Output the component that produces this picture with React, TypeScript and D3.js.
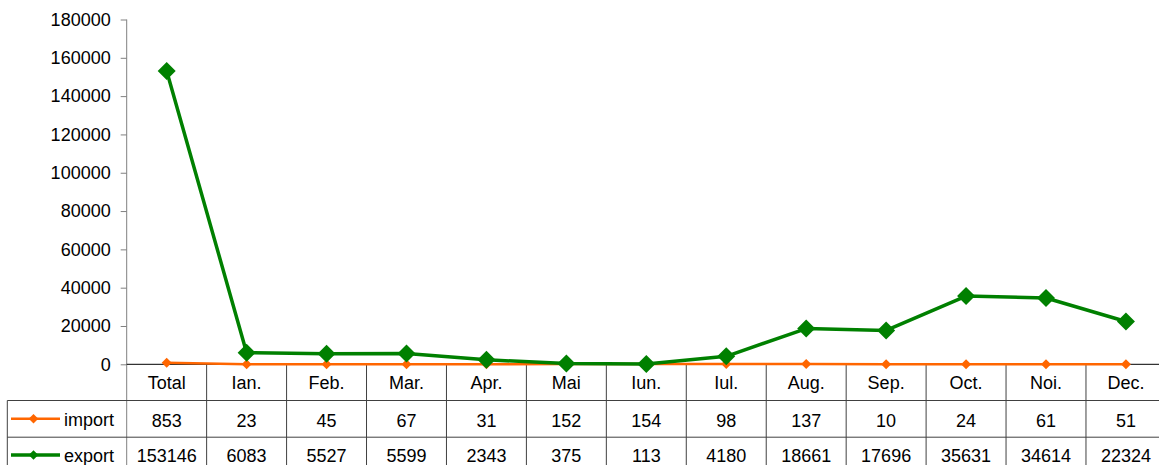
import React, { useRef, useEffect } from 'react';
import * as d3 from 'd3';

const categories = ['Total', 'Ian.', 'Feb.', 'Mar.', 'Apr.', 'Mai', 'Iun.', 'Iul.', 'Aug.', 'Sep.', 'Oct.', 'Noi.', 'Dec.'];
const importValues = [853, 23, 45, 67, 31, 152, 154, 98, 137, 10, 24, 61, 51];
const exportValues = [153146, 6083, 5527, 5599, 2343, 375, 113, 4180, 18661, 17696, 35631, 34614, 22324];
const yTicks = [0, 20000, 40000, 60000, 80000, 100000, 120000, 140000, 160000, 180000];

const width = 1159;
const height = 465;
const left = 126.7;
const colW = 79.94;
const top = 19.5;
const zeroY = 364.3;
const row1 = 400.5;
const row2 = 437.2;
const legendLeft = 7.3;
const font = '"Liberation Sans", Arial, sans-serif';

export default function App() {
  const ref = useRef<SVGSVGElement>(null);

  useEffect(() => {
    const svg = d3.select(ref.current);
    svg.selectAll('*').remove();

    const x = d3
      .scaleBand()
      .domain(categories)
      .range([left, left + colW * categories.length]);
    const y = d3.scaleLinear().domain([0, 180000]).range([zeroY, top]);
    const cx = (c: string) => (x(c) as number) + x.bandwidth() / 2;

    // y axis
    const axis = svg.append('g').attr('transform', `translate(${left},0)`);
    axis
      .call(
        d3
          .axisLeft(y)
          .tickValues(yTicks)
          .tickFormat(d3.format('d'))
          .tickSize(6)
          .tickSizeOuter(0)
          .tickPadding(10)
      )
      .call(g => g.selectAll('line').attr('stroke', '#808080'))
      .call(g =>
        g
          .selectAll('text')
          .attr('font-family', font)
          .attr('font-size', 18)
          .attr('fill', '#000')
      );
    axis.select('.domain').remove();
    svg
      .append('line')
      .attr('x1', left)
      .attr('x2', left)
      .attr('y1', top)
      .attr('y2', height)
      .attr('stroke', '#808080');

    // table grid
    const grid = svg.append('g').attr('stroke', '#404040').attr('stroke-width', 1);
    categories.forEach(c => {
      const xr = (x(c) as number) + x.bandwidth();
      grid.append('line').attr('x1', xr).attr('x2', xr).attr('y1', zeroY).attr('y2', height);
    });
    grid.append('line').attr('x1', legendLeft).attr('x2', legendLeft).attr('y1', row1).attr('y2', height);
    [row1, row2].forEach(r => {
      grid.append('line').attr('x1', legendLeft).attr('x2', width).attr('y1', r).attr('y2', r);
    });
    svg
      .append('line')
      .attr('x1', left)
      .attr('x2', width)
      .attr('y1', zeroY)
      .attr('y2', zeroY)
      .attr('stroke', '#000');

    // table text
    const txt = (xx: number, yy: number, s: string, anchor = 'middle') =>
      svg
        .append('text')
        .attr('x', xx)
        .attr('y', yy)
        .attr('text-anchor', anchor)
        .attr('font-family', font)
        .attr('font-size', 18)
        .attr('fill', '#000')
        .text(s);
    categories.forEach((c, i) => {
      txt(cx(c), 388.5, c);
      txt(cx(c), 426.5, String(importValues[i]));
      txt(cx(c), 461.5, String(exportValues[i]));
    });

    const diamond = (s: number) => `M0,${-s}L${s},0L0,${s}L${-s},0Z`;

    const series = [
      { name: 'import', values: importValues, color: '#FF6600', w: 2.5, m: 5, rowY: 418.8 },
      { name: 'export', values: exportValues, color: '#008000', w: 3.5, m: 9, rowY: 455 },
    ];

    series.forEach(s => {
      const line = d3
        .line<number>()
        .x((_, i) => cx(categories[i]))
        .y(d => y(d));
      svg
        .append('path')
        .datum(s.values)
        .attr('d', line)
        .attr('fill', 'none')
        .attr('stroke', s.color)
        .attr('stroke-width', s.w)
        .attr('stroke-linejoin', 'round');
      svg
        .selectAll(null)
        .data(s.values)
        .enter()
        .append('path')
        .attr('d', diamond(s.m))
        .attr('transform', (d, i) => `translate(${cx(categories[i])},${y(d)})`)
        .attr('fill', s.color);

      // legend key
      svg
        .append('line')
        .attr('x1', 11)
        .attr('x2', 60)
        .attr('y1', s.rowY)
        .attr('y2', s.rowY)
        .attr('stroke', s.color)
        .attr('stroke-width', s.w);
      svg
        .append('path')
        .attr('d', diamond(4.8))
        .attr('transform', `translate(33.5,${s.rowY})`)
        .attr('fill', s.color);
      txt(64, s.rowY + 7, s.name, 'start');
    });
  }, []);

  return (
    <svg
      ref={ref}
      width={width}
      height={height}
      style={{ position: 'absolute', left: 0, top: 0, background: '#fff' }}
    />
  );
}
